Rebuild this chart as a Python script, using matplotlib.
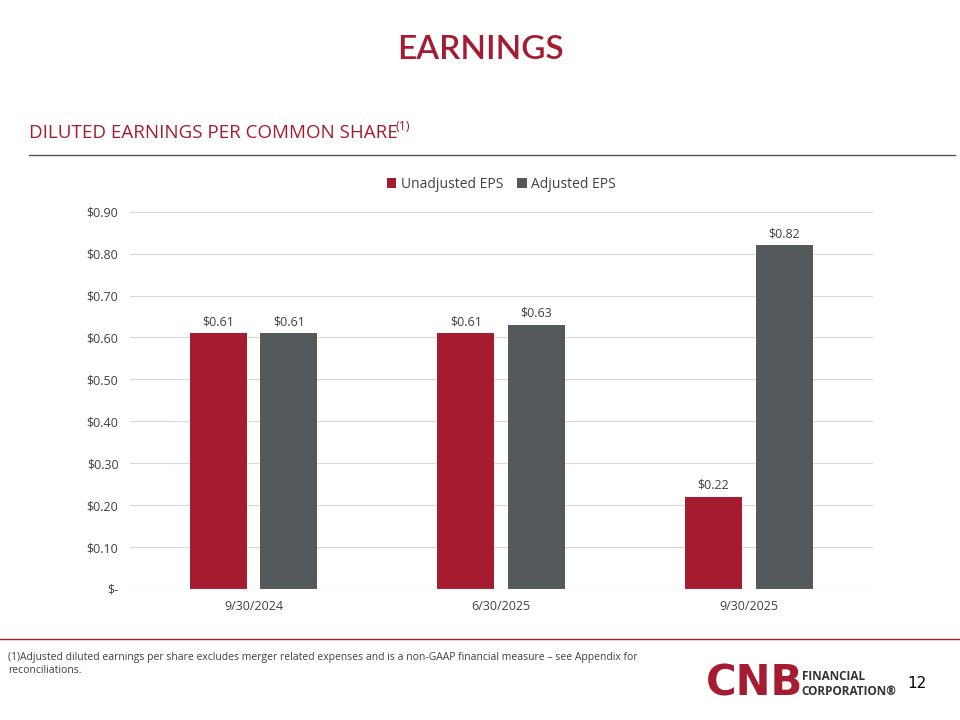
import numpy as np
import matplotlib.pyplot as plt

dates = ["9/30/2024", "6/30/2025", "9/30/2025"]
unadjusted = [0.61, 0.61, 0.22]
adjusted = [0.61, 0.63, 0.82]
yticks = [0, 0.1, 0.2, 0.3, 0.4, 0.5, 0.6, 0.7, 0.8, 0.9]

red = "#A51C30"
gray = "#53585A"
plt.rcParams["font.family"] = ["Open Sans", "DejaVu Sans"]

fig = plt.figure(figsize=(9.6, 7.2), dpi=100)
fig.text(0.5, 0.93, "EARNINGS", color=red, fontsize=24, fontweight="semibold",
         ha="center", va="center", family="Lato")
fig.text(0.03, 0.815, "DILUTED EARNINGS PER COMMON SHARE", color=red, fontsize=13.5, va="center")
fig.text(0.412, 0.825, "(1)", color=red, fontsize=9, va="center")
fig.add_artist(plt.Line2D([0.03, 0.995], [0.785, 0.785], color="#555555", lw=1))

ax = fig.add_axes([0.135, 0.182, 0.774, 0.524])
x = np.arange(len(dates))
w = 0.23
b1 = ax.bar(x - 0.143, unadjusted, w, color=red, label="Unadjusted EPS")
b2 = ax.bar(x + 0.143, adjusted, w, color=gray, label="Adjusted EPS")
for bars in (b1, b2):
    for b in bars:
        ax.text(b.get_x() + b.get_width() / 2, b.get_height() + 0.012,
                f"${b.get_height():.2f}", ha="center", va="bottom", fontsize=9, color="#404040")
ax.set_xlim(-0.5, 2.5)
ax.set_ylim(0, 0.9)
ax.set_yticks(yticks)
ax.set_yticklabels(["$-"] + [f"${v:.2f}" for v in yticks[1:]], fontsize=9, color="#404040")
ax.set_xticks(x)
ax.set_xticklabels(dates, fontsize=9, color="#404040")
ax.tick_params(length=0, pad=8)
ax.grid(axis="y", color="#D9D9D9", lw=0.8)
ax.set_axisbelow(True)
for s in ax.spines.values():
    s.set_visible(False)
ax.axhline(0, color="#D9D9D9", lw=0.8)
ax.legend(loc="lower center", bbox_to_anchor=(0.5, 1.02), ncol=2, frameon=False,
          fontsize=10, handlelength=0.7, handleheight=0.7, columnspacing=1.0,
          handletextpad=0.3, labelcolor="#404040")

fig.add_artist(plt.Line2D([0, 1], [0.113, 0.113], color=red, lw=1))
fig.text(0.008, 0.078, "(1)Adjusted diluted earnings per share excludes merger related expenses and is a non-GAAP financial measure – see Appendix for\nreconciliations.",
         fontsize=7.5, color="#404040", va="center", linespacing=1.3)
fig.text(0.735, 0.05, "CNB", fontsize=30, fontweight="bold", color=red, va="center", family="DejaVu Sans")
fig.text(0.835, 0.05, "FINANCIAL\nCORPORATION®", fontsize=8.5, fontweight="bold", color="#333333", va="center")
fig.text(0.945, 0.05, "12", fontsize=11, color="black", va="center", family="DejaVu Sans")

fig.savefig("out.png", dpi=100)
